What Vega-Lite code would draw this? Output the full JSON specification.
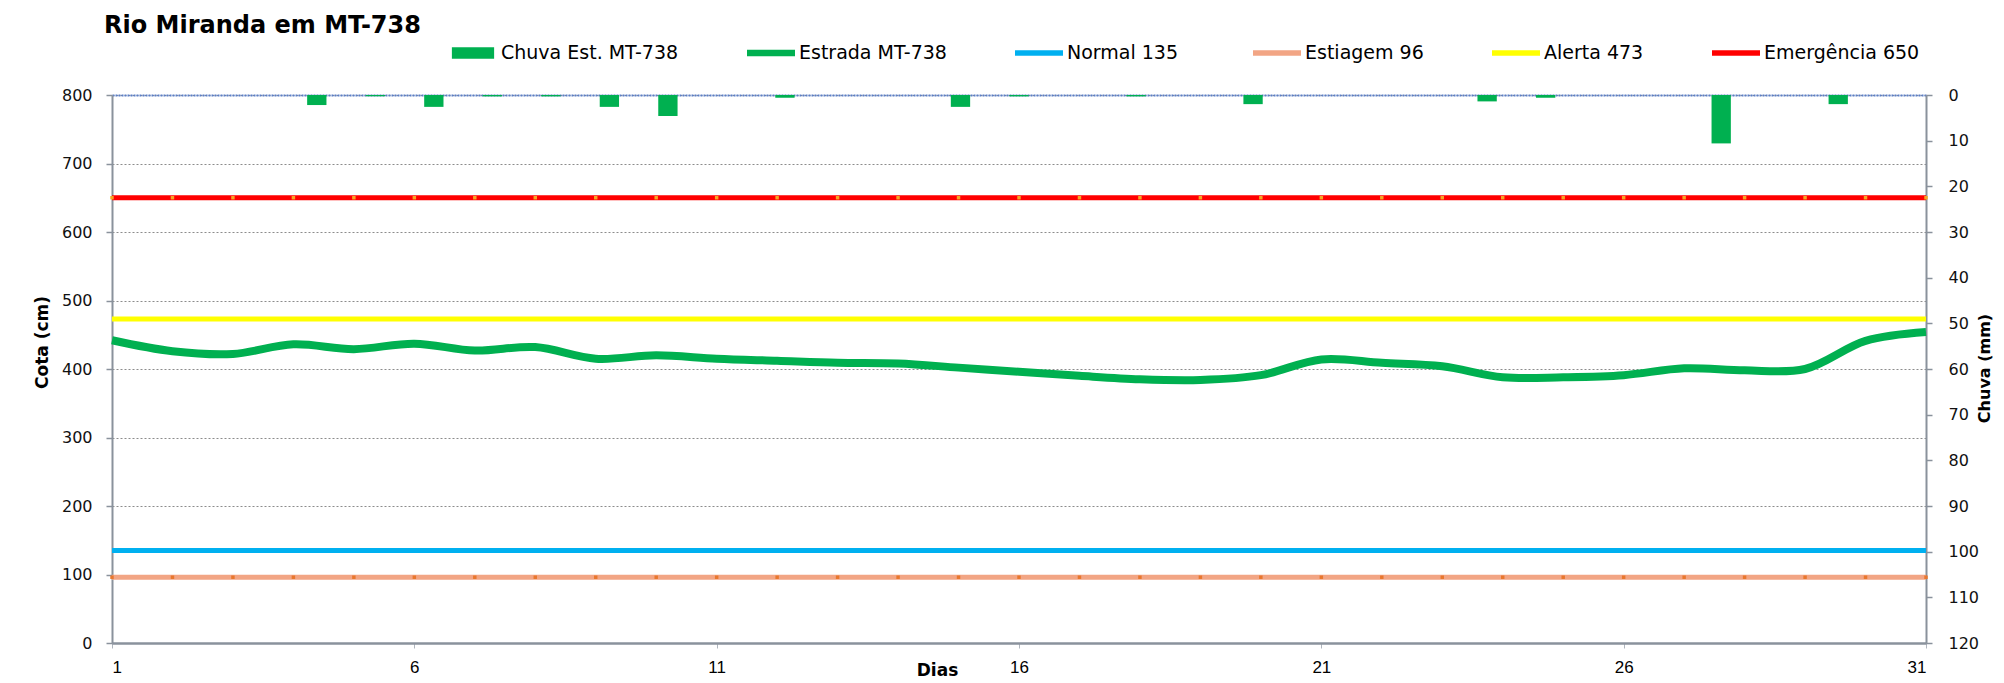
{
  "$schema": "https://vega.github.io/schema/vega-lite/v6.json",
  "width": 1814,
  "height": 548,
  "autosize": {"type": "none"},
  "padding": {"left": 112, "top": 95, "right": 78, "bottom": 40},
  "background": "white",
  "title": {
    "text": "Rio Miranda  em MT-738",
    "anchor": "start",
    "frame": "group",
    "font": "DejaVu Sans",
    "fontWeight": "bold",
    "fontSize": 24,
    "color": "#000000",
    "dx": -8,
    "offset": 0,
    "dy": 28,
    "baseline": "alphabetic"
  },
  "config": {
    "view": {"stroke": null},
    "axis": {
      "labelFont": "DejaVu Sans",
      "labelFontSize": 15,
      "labelColor": "#111111",
      "titleFont": "DejaVu Sans",
      "titleFontWeight": "bold",
      "titleColor": "#000000",
      "domainColor": "#8A929C",
      "tickColor": "#8A929C"
    }
  },
  "datasets": {
    "dias": [
      {"dia": 1, "chuva": 0, "cota": 442, "normal": 135, "estiagem": 96, "alerta": 473, "emergencia": 650},
      {"dia": 2, "chuva": 0, "cota": 426, "normal": 135, "estiagem": 96, "alerta": 473, "emergencia": 650},
      {"dia": 3, "chuva": 0, "cota": 422, "normal": 135, "estiagem": 96, "alerta": 473, "emergencia": 650},
      {"dia": 4, "chuva": 2.2, "cota": 436, "normal": 135, "estiagem": 96, "alerta": 473, "emergencia": 650},
      {"dia": 5, "chuva": 0.3, "cota": 429, "normal": 135, "estiagem": 96, "alerta": 473, "emergencia": 650},
      {"dia": 6, "chuva": 2.6, "cota": 437, "normal": 135, "estiagem": 96, "alerta": 473, "emergencia": 650},
      {"dia": 7, "chuva": 0.3, "cota": 427, "normal": 135, "estiagem": 96, "alerta": 473, "emergencia": 650},
      {"dia": 8, "chuva": 0.3, "cota": 432, "normal": 135, "estiagem": 96, "alerta": 473, "emergencia": 650},
      {"dia": 9, "chuva": 2.6, "cota": 415, "normal": 135, "estiagem": 96, "alerta": 473, "emergencia": 650},
      {"dia": 10, "chuva": 4.6, "cota": 420, "normal": 135, "estiagem": 96, "alerta": 473, "emergencia": 650},
      {"dia": 11, "chuva": 0, "cota": 415, "normal": 135, "estiagem": 96, "alerta": 473, "emergencia": 650},
      {"dia": 12, "chuva": 0.6, "cota": 412, "normal": 135, "estiagem": 96, "alerta": 473, "emergencia": 650},
      {"dia": 13, "chuva": 0, "cota": 409, "normal": 135, "estiagem": 96, "alerta": 473, "emergencia": 650},
      {"dia": 14, "chuva": 0, "cota": 408, "normal": 135, "estiagem": 96, "alerta": 473, "emergencia": 650},
      {"dia": 15, "chuva": 2.6, "cota": 402, "normal": 135, "estiagem": 96, "alerta": 473, "emergencia": 650},
      {"dia": 16, "chuva": 0.3, "cota": 396, "normal": 135, "estiagem": 96, "alerta": 473, "emergencia": 650},
      {"dia": 17, "chuva": 0, "cota": 390, "normal": 135, "estiagem": 96, "alerta": 473, "emergencia": 650},
      {"dia": 18, "chuva": 0.3, "cota": 385, "normal": 135, "estiagem": 96, "alerta": 473, "emergencia": 650},
      {"dia": 19, "chuva": 0, "cota": 384, "normal": 135, "estiagem": 96, "alerta": 473, "emergencia": 650},
      {"dia": 20, "chuva": 2.0, "cota": 391, "normal": 135, "estiagem": 96, "alerta": 473, "emergencia": 650},
      {"dia": 21, "chuva": 0, "cota": 414, "normal": 135, "estiagem": 96, "alerta": 473, "emergencia": 650},
      {"dia": 22, "chuva": 0, "cota": 409, "normal": 135, "estiagem": 96, "alerta": 473, "emergencia": 650},
      {"dia": 23, "chuva": 0, "cota": 404, "normal": 135, "estiagem": 96, "alerta": 473, "emergencia": 650},
      {"dia": 24, "chuva": 1.4, "cota": 388, "normal": 135, "estiagem": 96, "alerta": 473, "emergencia": 650},
      {"dia": 25, "chuva": 0.6, "cota": 388, "normal": 135, "estiagem": 96, "alerta": 473, "emergencia": 650},
      {"dia": 26, "chuva": 0, "cota": 391, "normal": 135, "estiagem": 96, "alerta": 473, "emergencia": 650},
      {"dia": 27, "chuva": 0, "cota": 401, "normal": 135, "estiagem": 96, "alerta": 473, "emergencia": 650},
      {"dia": 28, "chuva": 10.6, "cota": 398, "normal": 135, "estiagem": 96, "alerta": 473, "emergencia": 650},
      {"dia": 29, "chuva": 0, "cota": 400, "normal": 135, "estiagem": 96, "alerta": 473, "emergencia": 650},
      {"dia": 30, "chuva": 2.0, "cota": 441, "normal": 135, "estiagem": 96, "alerta": 473, "emergencia": 650},
      {"dia": 31, "chuva": 0, "cota": 454, "normal": 135, "estiagem": 96, "alerta": 473, "emergencia": 650}
    ],
    "legenda": [
      {"serie": "Chuva Est. MT-738"},
      {"serie": "Estrada MT-738"},
      {"serie": "Normal  135"},
      {"serie": "Estiagem 96"},
      {"serie": "Alerta 473"},
      {"serie": "Emergência 650"}
    ]
  },
  "layer": [
    {
      "data": {"name": "dias"},
      "mark": {"type": "bar", "color": "#00B050"},
      "encoding": {
        "x": {
          "field": "dia",
          "type": "ordinal",
          "scale": {"paddingInner": 0.67, "paddingOuter": 0.335},
          "axis": {
            "orient": "top",
            "labels": false,
            "ticks": false,
            "title": null,
            "grid": false,
            "domainColor": "#5B7FC8",
            "domainWidth": 2,
            "domainDash": [2, 1]
          }
        },
        "y": {
          "field": "chuva",
          "type": "quantitative",
          "scale": {"domain": [0, 120], "reverse": true, "nice": false},
          "axis": {
            "orient": "right",
            "values": [0, 10, 20, 30, 40, 50, 60, 70, 80, 90, 100, 110, 120],
            "grid": false,
            "tickSize": 6,
            "tickWidth": 1.5,
            "domainWidth": 2,
            "labelPadding": 16,
            "labelAlign": "left",
            "labelFontSize": 16,
            "title": "Chuva (mm)",
            "titleFontSize": 16,
            "titleAngle": 270,
            "titleBaseline": "middle",
            "titleX": 58,
            "titleY": 273
          }
        }
      }
    },
    {
      "data": {"name": "dias"},
      "encoding": {
        "x": {
          "field": "dia",
          "type": "quantitative",
          "scale": {"domain": [1, 31], "nice": false, "zero": false},
          "axis": {
            "orient": "bottom",
            "values": [1, 6, 11, 16, 21, 26, 31],
            "grid": false,
            "tickSize": 5,
            "tickColor": "#B0B6BE",
            "domainWidth": 2.5,
            "labelFont": "Liberation Sans",
            "labelFontSize": 17,
            "labelPadding": 11,
            "labelColor": "#000000",
            "title": "Dias",
            "titleFont": "DejaVu Sans",
            "titleFontSize": 17,
            "titleX": 825,
            "titleY": 27,
            "titleBaseline": "middle"
          }
        }
      },
      "layer": [
        {
          "mark": {"type": "line", "color": "#00B050", "strokeWidth": 8, "interpolate": "catmull-rom"},
          "encoding": {
            "y": {
              "field": "cota",
              "type": "quantitative",
              "scale": {"domain": [0, 800], "nice": false},
              "axis": {
                "orient": "left",
                "values": [0, 100, 200, 300, 400, 500, 600, 700, 800],
                "grid": true,
                "gridDash": [2, 2],
                "gridColor": "#8C8C8C",
                "gridWidth": 1,
                "tickSize": 6,
                "tickWidth": 1.5,
                "domainWidth": 2,
                "labelPadding": 14,
                "labelFontSize": 16,
                "title": "Cota  (cm)",
                "titleFontSize": 17,
                "titleAngle": 270,
                "titleBaseline": "middle",
                "titleX": -70,
                "titleY": 247
              }
            }
          }
        },
        {
          "mark": {"type": "line", "color": "#00B0F0", "strokeWidth": 5},
          "encoding": {"y": {"field": "normal", "type": "quantitative", "scale": {"domain": [0, 800], "nice": false}, "axis": {"title": "Cota  (cm)"}}}
        },
        {
          "mark": {"type": "line", "color": "#F2A584", "strokeWidth": 5},
          "encoding": {"y": {"field": "estiagem", "type": "quantitative", "scale": {"domain": [0, 800], "nice": false}, "axis": {"title": "Cota  (cm)"}}}
        },
        {
          "mark": {"type": "point", "shape": "square", "filled": true, "color": "#E8772E", "size": 12, "opacity": 1},
          "encoding": {"y": {"field": "estiagem", "type": "quantitative", "scale": {"domain": [0, 800], "nice": false}, "axis": {"title": "Cota  (cm)"}}}
        },
        {
          "mark": {"type": "line", "color": "#FFFF00", "strokeWidth": 5},
          "encoding": {"y": {"field": "alerta", "type": "quantitative", "scale": {"domain": [0, 800], "nice": false}, "axis": {"title": "Cota  (cm)"}}}
        },
        {
          "mark": {"type": "line", "color": "#FF0000", "strokeWidth": 5},
          "encoding": {"y": {"field": "emergencia", "type": "quantitative", "scale": {"domain": [0, 800], "nice": false}, "axis": {"title": "Cota  (cm)"}}}
        },
        {
          "mark": {"type": "point", "shape": "square", "filled": true, "color": "#F5A623", "size": 12, "opacity": 1},
          "encoding": {"y": {"field": "emergencia", "type": "quantitative", "scale": {"domain": [0, 800], "nice": false}, "axis": {"title": "Cota  (cm)"}}}
        }
      ]
    },
    {
      "data": {"name": "legenda"},
      "mark": {"type": "point", "filled": true, "size": 0},
      "encoding": {
        "color": {
          "field": "serie",
          "type": "nominal",
          "scale": {
            "domain": ["Chuva Est. MT-738", "Estrada MT-738", "Normal  135", "Estiagem 96", "Alerta 473", "Emergência 650"],
            "range": ["#00B050", "#00B050", "#00B0F0", "#F2A584", "#FFFF00", "#FF0000"]
          },
          "legend": {
            "orient": "none",
            "legendX": 337,
            "legendY": -66,
            "direction": "horizontal",
            "title": null,
            "columnPadding": 68,
            "labelOffset": 4,
            "labelLimit": 400,
            "symbolSize": 2304,
            "symbolStrokeWidth": 0,
            "symbolOpacity": 1,
            "labelFont": "DejaVu Sans",
            "labelFontSize": 19,
            "labelColor": "#000000",
            "padding": 0
          }
        },
        "shape": {
          "field": "serie",
          "type": "nominal",
          "scale": {
            "domain": ["Chuva Est. MT-738", "Estrada MT-738", "Normal  135", "Estiagem 96", "Alerta 473", "Emergência 650"],
            "range": [
              "M-0.88,-0.24H0.88V0.24H-0.88Z",
              "M-1,-0.14H1V0.14H-1Z",
              "M-1,-0.11H1V0.11H-1Z",
              "M-1,-0.11H1V0.11H-1Z",
              "M-1,-0.11H1V0.11H-1Z",
              "M-1,-0.11H1V0.11H-1Z"
            ]
          },
          "legend": {
            "orient": "none",
            "legendX": 337,
            "legendY": -66,
            "direction": "horizontal",
            "title": null,
            "columnPadding": 68,
            "labelOffset": 4,
            "labelLimit": 400,
            "symbolSize": 2304,
            "symbolStrokeWidth": 0,
            "symbolOpacity": 1,
            "labelFont": "DejaVu Sans",
            "labelFontSize": 19,
            "labelColor": "#000000",
            "padding": 0
          }
        }
      }
    }
  ],
  "resolve": {"scale": {"x": "independent", "y": "independent"}}
}
